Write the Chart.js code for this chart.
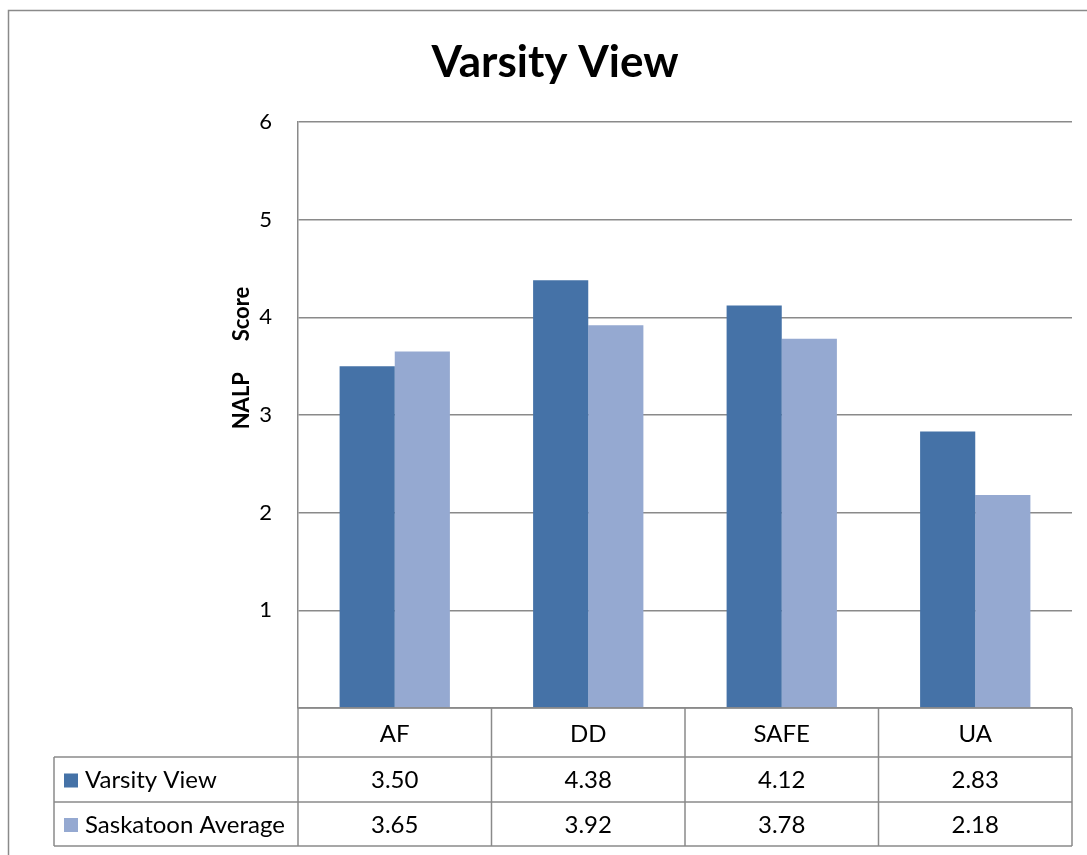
<!DOCTYPE html>
<html>
<head>
<meta charset="utf-8">
<title>Varsity View</title>
<script src="https://cdn.jsdelivr.net/npm/chart.js@4/dist/chart.umd.min.js"></script>
<style>
  html, body { margin: 0; padding: 0; background: #ffffff; }
  #wrap { width: 1087px; height: 855px; }
</style>
</head>
<body>
<div id="wrap"><canvas id="chart" width="1087" height="855"></canvas></div>
<script>
// Categories and scores
const categories = ['AF', 'DD', 'SAFE', 'UA'];
const varsityView = [3.50, 4.38, 4.12, 2.83];
const saskatoonAverage = [3.65, 3.92, 3.78, 2.18];
const seriesNames = ['Varsity View', 'Saskatoon Average'];
const chartTitle = 'Varsity View';
const axisTitle = 'NALP  Score';

const FONT = 'Lato, "Open Sans", sans-serif';
const LINE = '#8a8a8a';
const DARK = '#4572a7';
const LIGHT = '#95a9d1';

// Title, axis title, frame and data table under the plot
const tablePlugin = {
  id: 'dataTable',
  afterDraw(chart) {
    const ctx = chart.ctx;
    const area = chart.chartArea;
    const xs = chart.scales.x;
    const sets = chart.data.datasets;
    ctx.save();

    // outer frame
    ctx.strokeStyle = LINE;
    ctx.lineWidth = 1.5;
    ctx.beginPath();
    ctx.moveTo(8.5, 900);
    ctx.lineTo(8.5, 10.5);
    ctx.lineTo(1200, 10.5);
    ctx.stroke();

    // chart title
    ctx.fillStyle = '#000';
    ctx.font = 'bold 44px ' + FONT;
    ctx.textAlign = 'center';
    ctx.textBaseline = 'alphabetic';
    ctx.fillText(chartTitle, 555, 77);

    // value axis title
    ctx.save();
    ctx.translate(249, 358);
    ctx.rotate(-Math.PI / 2);
    ctx.font = 'bold 22px ' + FONT;
    if ('wordSpacing' in ctx) ctx.wordSpacing = '10px';
    ctx.fillText(axisTitle, 0, 0);
    ctx.restore();

    // table geometry
    const rowTops = [area.bottom, 757, 802, 846];
    const labelLeft = 54;
    const colW = (area.right - area.left) / categories.length;
    ctx.strokeStyle = LINE;
    ctx.lineWidth = 1.5;
    ctx.beginPath();
    // horizontal rules
    ctx.moveTo(area.left, rowTops[0]); ctx.lineTo(area.right, rowTops[0]);
    for (let r = 1; r < rowTops.length; r++) {
      ctx.moveTo(labelLeft, rowTops[r]); ctx.lineTo(area.right, rowTops[r]);
    }
    // vertical rules
    ctx.moveTo(labelLeft, rowTops[1]); ctx.lineTo(labelLeft, rowTops[3]);
    for (let c = 0; c <= categories.length; c++) {
      const x = area.left + c * colW;
      ctx.moveTo(x, rowTops[0]); ctx.lineTo(x, rowTops[3]);
    }
    ctx.stroke();

    // header row: categories
    ctx.fillStyle = '#000';
    ctx.font = '24px ' + FONT;
    ctx.textAlign = 'center';
    ctx.textBaseline = 'middle';
    categories.forEach((c, i) => {
      ctx.fillText(c, xs.getPixelForValue(i), (rowTops[0] + rowTops[1]) / 2 + 2);
    });

    // series rows
    sets.forEach((ds, r) => {
      const yMid = (rowTops[r + 1] + rowTops[r + 2]) / 2 + 1;
      ctx.fillStyle = ds.backgroundColor;
      ctx.fillRect(64, yMid - 7, 14, 14);
      ctx.fillStyle = '#000';
      ctx.textAlign = 'left';
      ctx.fillText(ds.label, 85, yMid);
      ctx.textAlign = 'center';
      ds.data.forEach((v, i) => {
        ctx.fillText(v.toFixed(2), xs.getPixelForValue(i), yMid);
      });
    });
    ctx.restore();
  }
};

new Chart(document.getElementById('chart'), {
  type: 'bar',
  data: {
    labels: categories,
    datasets: [
      { label: seriesNames[0], data: varsityView, backgroundColor: DARK, borderWidth: 0 },
      { label: seriesNames[1], data: saskatoonAverage, backgroundColor: LIGHT, borderWidth: 0 }
    ]
  },
  options: {
    responsive: false,
    animation: false,
    devicePixelRatio: 1,
    layout: { padding: { left: 0, top: 122, right: 15, bottom: 147 } },
    datasets: { bar: { categoryPercentage: 0.57, barPercentage: 1.0 } },
    plugins: {
      legend: { display: false },
      title: { display: false },
      tooltip: { enabled: false }
    },
    scales: {
      x: { display: false },
      y: {
        min: 0,
        max: 6,
        afterFit(scale) { scale.width = 298; },
        ticks: {
          stepSize: 1,
          padding: 26,
          color: '#000',
          font: { family: FONT, size: 22 },
          callback: (v) => (v === 0 ? '' : v)
        },
        grid: { color: LINE, lineWidth: 1.5, drawTicks: false },
        border: { display: true, color: LINE, width: 1.5 }
      }
    }
  },
  plugins: [tablePlugin]
});
</script>
</body>
</html>
